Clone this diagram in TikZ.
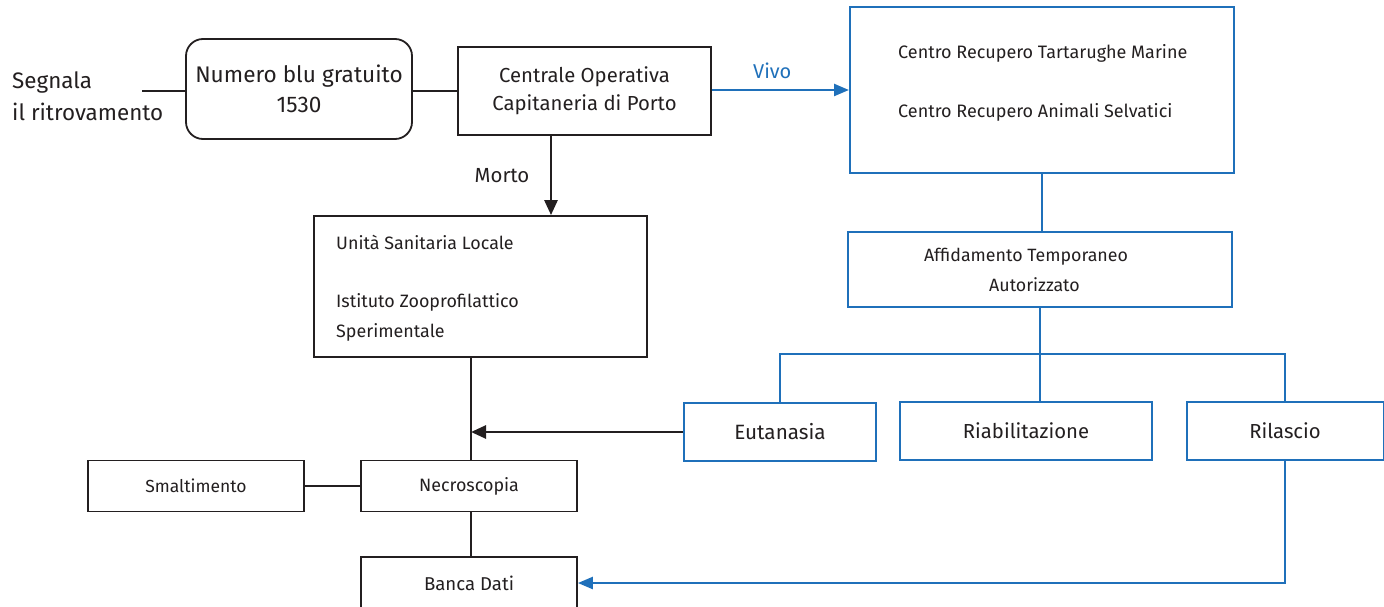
\documentclass[tikz,border=0pt]{standalone}
\usepackage{fontspec}
\setmainfont{Fira Sans}
\usepackage{tikz}
\usetikzlibrary{arrows.meta, positioning}
\definecolor{flowblue}{HTML}{1F70BA}
\definecolor{ink}{HTML}{231F20}
\newcommand{\fs}[2]{\fontsize{#1}{#2}\selectfont}
\tikzset{
  box/.style={rectangle, draw=ink, line width=1.8pt, text=ink, align=center, inner sep=0pt},
  bluebox/.style={rectangle, draw=flowblue, line width=2pt, text=ink, align=center, inner sep=0pt},
  roundbox/.style={box, rounded corners=17pt},
  link/.style={draw=ink, line width=1.8pt},
  bluelink/.style={draw=flowblue, line width=2pt},
  arrow/.style={link, line width=2.6pt, -{Triangle[length=15pt, width=13pt]}},
  bluearrow/.style={bluelink, line width=2.4pt, -{Triangle[length=15pt, width=12pt]}}
}

\begin{document}
\begin{tikzpicture}[x=1pt, y=-1pt]
  \clip (0,0) rectangle (1384,607);
  % top row
  \node[anchor=west, align=left, text=ink, font=\fs{22.4}{32}, inner sep=0pt] (ritro) at (12,96) {Segnala\\il ritrovamento};
  \coordinate (start) at (142,91);
  \node[roundbox, minimum width=226pt, minimum height=100pt, font=\fs{22.6}{30}] (numero) at (299,89) {Numero blu gratuito\\1530};
  \node[box, minimum width=253pt, minimum height=88pt, font=\fs{20.3}{28}] (centrale) at (584.5,91) {Centrale Operativa\\Capitaneria di Porto};
  \node[bluebox, minimum width=384pt, minimum height=166pt] (centro) at (1042,90) {};
  \node[anchor=north west, align=left, text=ink, font=\fs{18}{29.5}, inner sep=0pt] (centrotxt) at (898,44) {Centro Recupero Tartarughe Marine\\[29.5pt]Centro Recupero Animali Selvatici};
  \draw[link] (start) -- (start -| numero.west);
  \draw[link] (numero.east |- start) -- (start -| centrale.west);
  \draw[bluearrow] (centrale.east |- centro.west) -- node[pos=0.44, above=7pt, text=flowblue, font=\fs{20}{24}] {Vivo} (centro.west);

  % dead branch
  \node[box, minimum width=333pt, minimum height=141pt] (unita) at (480.5,286.5) {};
  \node[anchor=north west, align=left, text=ink, font=\fs{17.9}{30}, inner sep=0pt] (unitatxt) at (336,235) {Unità Sanitaria Locale\\[28pt]Istituto Zooprofilattico\\Sperimentale};
  \draw[arrow] (551,0 |- centrale.south) -- node[left=17pt, text=ink, font=\fs{20.4}{24}] {Morto} (551,0 |- unita.north);
  \node[box, minimum width=216pt, minimum height=51pt, font=\fs{17.9}{22}] (necro) at (469,486) {Necroscopia};
  \node[box, minimum width=216pt, minimum height=51pt, font=\fs{17.5}{22}] (smalt) at (196,486) {Smaltimento};
  \node[box, minimum width=216pt, minimum height=52pt, font=\fs{18.6}{22}] (banca) at (469,583) {Banca Dati};
  \draw[link] (unita.south -| 471,0) -- (471,0 |- necro.north);
  \draw[link] (smalt.east) -- (necro.west);
  \draw[link] (471,0 |- necro.south) -- (471,0 |- banca.north);

  % alive branch
  \node[bluebox, minimum width=384pt, minimum height=75pt, font=\fs{17.8}{30}] (affid) at (1040,269.5) {Affidamento Temporaneo\hspace*{28pt}\\Autorizzato\hspace*{11pt}};
  \node[bluebox, minimum width=192pt, minimum height=58pt, font=\fs{20.7}{24}] (eutan) at (780,432) {Eutanasia};
  \node[bluebox, minimum width=252pt, minimum height=58pt, font=\fs{20.3}{24}] (riab) at (1026,431) {Riabilitazione};
  \node[bluebox, minimum width=197pt, minimum height=58pt, font=\fs{20.3}{24}] (rilas) at (1285,431) {Rilascio};
  \draw[bluelink] (centro.south) -- (centro.south |- affid.north);
  \draw[bluelink] (affid.south) -- ++(0,46) coordinate (fork);
  \draw[bluelink] (eutan.north) |- (fork) -| (rilas.north);
  \draw[bluelink] (fork) -- (fork |- riab.north);
  \draw[arrow] (eutan.west) -- (eutan.west -| 471,0);
  \draw[bluearrow] (rilas.south) |- (banca.east);
\end{tikzpicture}
\end{document}
